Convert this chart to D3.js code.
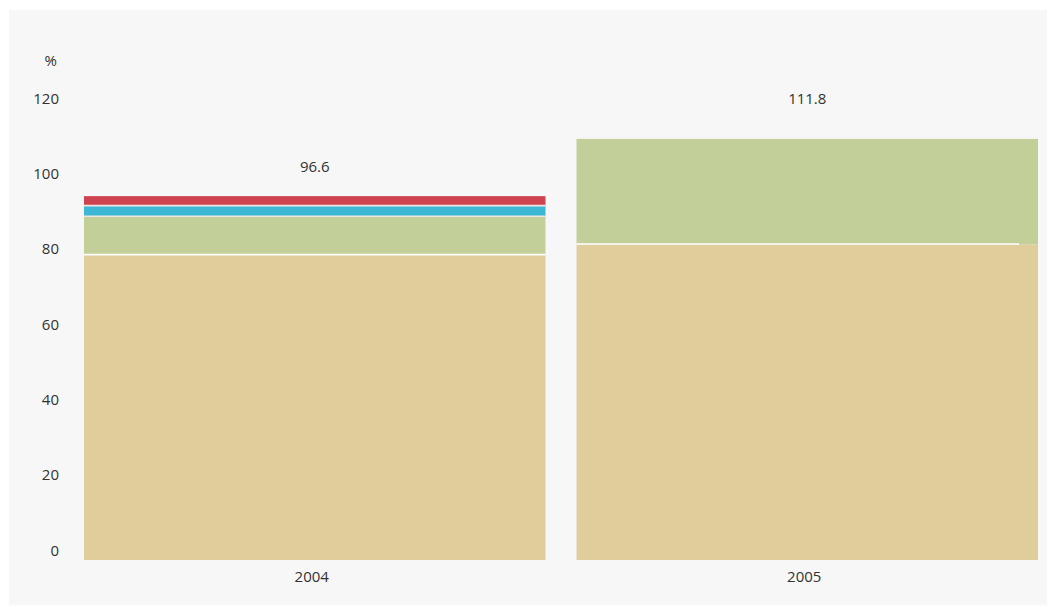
<!DOCTYPE html>
<html><head><meta charset="utf-8">
<script src="https://cdn.jsdelivr.net/npm/d3@7"></script>
<style>
html,body{margin:0;padding:0;background:#fff;}
svg{display:block;font-family:"Open Sans",sans-serif;}
</style></head>
<body>
<svg id="chart" width="1054" height="607"></svg>
<script>
const years = ["2004", "2005"];
const seriesNames = ["beige", "green", "blue", "red"];
const beigeValues = [81.0, 83.8];
const greenValues = [10.2, 28.0];
const blueValues = [2.8, 0];
const redValues = [2.6, 0];
const totals = [96.6, 111.8];
const yTicks = [0, 20, 40, 60, 80, 100, 120];
const unitLabel = "%";

const colors = {beige: "#e0cd9c", green: "#c3cf98", blue: "#3db8d4", red: "#cf4350"};
const FS = 15;

const svg = d3.select("#chart");
svg.append("rect").attr("x", 9).attr("y", 10).attr("width", 1038).attr("height", 595).attr("fill", "#f7f7f7");

const x = d3.scaleBand().domain(years).range([84, 1038]).paddingInner(0.063).paddingOuter(0);
const y = d3.scaleLinear().domain([0, 120]).range([560, 108]);

const rows = years.map((yr, i) => ({year: yr, beige: beigeValues[i], green: greenValues[i], blue: blueValues[i], red: redValues[i], total: totals[i]}));
const stacked = d3.stack().keys(seriesNames)(rows);

const g = svg.append("g");
stacked.forEach(layer => {
  g.selectAll(null).data(layer.filter(d => d[1] - d[0] > 0)).enter().append("rect")
    .attr("x", d => x(d.data.year))
    .attr("width", x.bandwidth())
    .attr("y", d => y(d[1]))
    .attr("height", d => y(d[0]) - y(d[1]))
    .attr("fill", colors[layer.key]);
});
// separators between segments
stacked.forEach((layer, li) => {
  if (li === 0) return;
  g.selectAll(null).data(layer.filter(d => d[1] - d[0] > 0)).enter().append("line")
    .attr("x1", d => x(d.data.year))
    .attr("x2", d => x(d.data.year) + x.bandwidth() - (li === 1 && d.data.year === "2005" ? 19 : 0))
    .attr("y1", d => y(d[0]) - 0.3)
    .attr("y2", d => y(d[0]) - 0.3)
    .attr("stroke", li === 1 ? "#ffffff" : "#efe6e2")
    .attr("stroke-width", 1.6);
});

// y axis labels
const yAxis = d3.axisLeft(y).tickValues(yTicks).tickSize(0).tickPadding(0);
const ya = svg.append("g").attr("transform", "translate(59,-9.5)").call(yAxis);
ya.select(".domain").remove();
ya.selectAll("text").attr("font-size", FS).attr("fill", "#333").attr("font-family", "Open Sans, sans-serif");

svg.append("text").attr("x", 57).attr("y", y(120) - 47).attr("dy", "0.32em")
  .attr("text-anchor", "end").attr("font-size", FS).attr("fill", "#333").text(unitLabel);

// x axis labels
const xAxis = d3.axisBottom(x).tickSize(0).tickPadding(0);
const xa = svg.append("g").attr("transform", "translate(-3,571)").call(xAxis);
xa.select(".domain").remove();
xa.selectAll("text").attr("font-size", FS).attr("fill", "#333").attr("font-family", "Open Sans, sans-serif");

// total labels
const labelGap = {"2004": 28.5, "2005": 40};
svg.selectAll(".tot").data(rows).enter().append("text")
  .attr("class", "tot")
  .attr("x", d => x(d.year) + x.bandwidth() / 2)
  .attr("y", d => y(d.total) - labelGap[d.year])
  .attr("dy", "0.32em")
  .attr("text-anchor", "middle").attr("font-size", FS).attr("fill", "#333")
  .text(d => d3.format(".1f")(d.total));
</script>
</body></html>
